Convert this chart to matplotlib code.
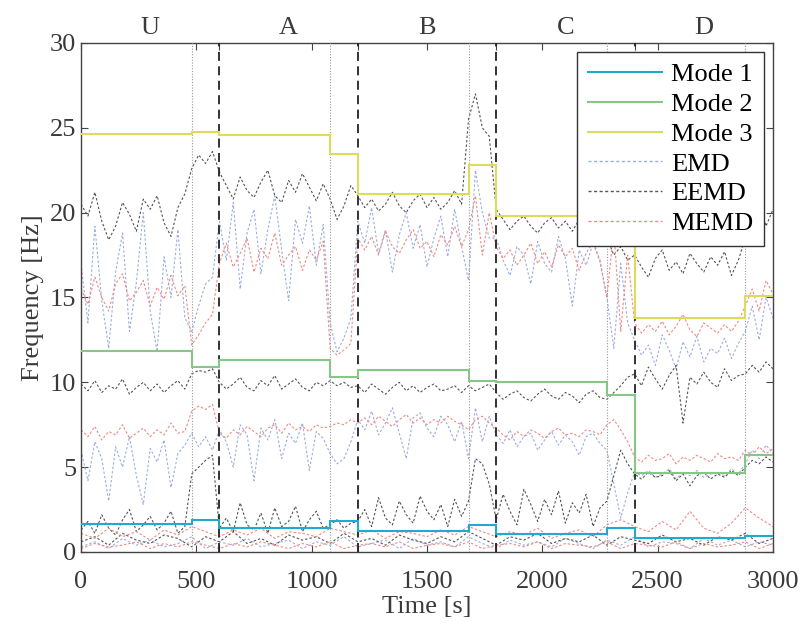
import numpy as np
import matplotlib
matplotlib.use("Agg")
import matplotlib.pyplot as plt
from matplotlib.lines import Line2D

plt.rcParams['font.family'] = ['Liberation Serif', 'DejaVu Serif']

# segment edges [s] and step values of the three modes [Hz]
edges = [0, 480, 600, 1080, 1200, 1680, 1800, 2280, 2400, 2880, 3000]
mode1 = [1.65, 1.9, 1.4, 1.8, 1.25, 1.6, 1.06, 1.4, 0.82, 0.94]
mode2 = [11.84, 10.9, 11.3, 10.3, 10.72, 10.1, 10.0, 9.25, 4.65, 5.7]
mode3 = [24.63, 24.75, 24.57, 23.45, 21.1, 22.8, 19.8, 19.75, 13.8, 15.1]

phase_lines = [600, 1200, 1800, 2400]
trans_lines = [480, 1080, 1680, 2280, 2880]
phase_names = ['U', 'A', 'B', 'C', 'D']
phase_centers = [300, 900, 1500, 2100, 2700]

# estimated frequency tracks, one value every 30 s (0..3000 s)
eemd_hi = [20.5, 19.8, 21.2, 19.5, 18.4, 19.2, 20.6, 19.9, 18.9, 20.8, 20.2, 21.0, 19.4, 18.6, 20.3, 21.1,
           22.6, 23.4, 22.9, 23.6,
           22.4, 21.6, 20.8, 22.1, 21.3, 20.9, 21.8, 22.5, 21.0, 20.6, 21.9, 21.2, 22.3, 21.5, 20.7, 21.7,
           20.8, 19.6, 20.4, 21.6,
           21.0, 20.3, 20.8, 20.1, 20.5, 21.2, 20.4, 20.0, 20.7, 21.1, 20.3, 20.9, 20.2, 20.6, 21.3, 20.5,
           25.5, 27.0, 25.0, 24.5,
           20.2, 19.6, 19.0, 19.5, 19.8, 19.2, 18.8, 19.4, 19.7, 19.1, 19.5, 18.9, 19.6, 19.3, 19.0, 19.8,
           18.5, 17.5, 18.0, 17.2,
           17.5, 16.8, 16.2, 17.3, 17.8, 16.6, 17.1, 16.4, 17.6, 17.0, 16.5, 17.4, 16.9, 17.7, 16.3, 17.2,
           18.5, 19.6, 20.8, 19.2, 20.2]
eemd_mid = [9.9, 9.5, 10.1, 9.4, 9.8, 9.6, 10.2, 9.3, 9.7, 10.0, 9.5, 9.9, 9.4, 9.8, 10.1, 9.6,
            10.5, 10.7, 10.6, 10.8,
            10.0, 9.6, 9.9, 10.3, 9.7, 9.5, 10.1, 9.8, 10.4, 9.6, 9.9, 10.2, 9.7, 9.5, 10.0, 9.8,
            10.1, 9.8, 10.0, 9.7,
            9.8, 9.4, 9.9, 9.6, 9.3, 9.7, 10.0, 9.5, 9.8, 9.4, 9.7, 9.9, 9.5, 9.6, 9.8, 9.4,
            9.8, 9.5, 9.7, 9.9,
            9.4, 9.0, 9.3, 9.5, 9.1, 8.9, 9.3, 9.6, 9.2, 9.0, 9.4, 9.2, 8.8, 9.3, 9.5, 9.1,
            9.0, 9.4, 9.8, 10.3,
            10.5, 9.8, 10.9, 10.2, 9.6, 10.4, 11.0, 7.6, 10.3, 9.9, 10.6, 10.0, 9.7, 10.8, 10.1, 10.4,
            10.5, 11.0, 10.6, 11.2, 10.8]
eemd_lo = [1.3, 1.8, 1.1, 2.2, 1.4, 1.0, 1.9, 2.5, 1.2, 1.6, 2.1, 1.3, 1.7, 2.4, 1.1, 1.5,
           4.6, 5.0, 5.4, 5.7,
           1.4, 2.0, 1.2, 2.9, 1.6, 1.3, 2.3, 1.1, 2.6, 1.5, 1.8, 2.7, 1.2, 1.9, 2.4, 1.4,
           1.6, 1.9, 1.4, 1.7,
           1.8, 2.5, 1.5, 3.2, 2.0, 1.6, 3.0, 2.2, 1.7, 3.3, 2.4, 1.9, 2.8, 1.5, 3.1, 2.1,
           3.0, 5.5, 5.2, 4.0,
           1.9, 3.4, 2.4, 1.6, 3.7, 2.8, 1.8, 3.1, 2.2, 3.6, 1.7, 2.9, 2.3, 3.4, 1.5, 2.6,
           3.0, 4.5, 6.0, 5.2,
           4.6, 4.3, 4.7, 4.4, 4.5, 4.8, 4.2, 4.6, 3.9, 4.5, 4.7, 4.3, 4.6, 4.4, 4.8, 4.5,
           5.0, 5.4, 5.2, 5.6, 5.3]

emd_hi = [17.0, 13.5, 19.2, 14.8, 12.0, 16.5, 18.8, 13.0, 15.9, 20.0, 14.2, 11.8, 17.4, 15.0, 19.0, 13.8,
          13.0, 14.5, 15.8, 16.2,
          19.5, 17.2, 20.6, 15.5, 18.8, 20.2, 16.4, 19.0, 21.0, 17.8, 14.8, 19.6, 18.2, 20.4, 16.9, 19.3,
          13.5, 11.8, 12.6, 13.8,
          19.5, 18.2, 20.3, 17.6, 19.0, 16.5, 18.7, 20.0, 17.9, 19.3, 16.8, 18.5, 19.8, 17.4, 20.2, 18.0,
          16.0, 22.5, 20.0, 18.5,
          18.5, 17.2, 16.3, 18.0, 17.5, 15.8, 18.3, 17.0, 16.5, 18.6, 17.3, 14.5, 17.8, 16.9, 18.2, 17.1,
          15.0, 12.0, 17.0, 13.5,
          12.5, 11.6, 12.2, 11.0, 12.8, 11.9, 10.8, 12.4, 11.5, 12.7, 11.2, 12.0, 11.7, 12.6, 11.4, 12.3,
          13.0, 14.5, 12.5, 15.0, 13.8]
emd_mid = [6.0, 4.2, 6.5, 5.5, 3.0, 6.2, 5.0, 6.8, 4.5, 2.8, 6.1, 5.3, 6.6, 3.8, 5.8, 6.3,
           7.0, 6.2, 6.8, 6.0,
           7.2, 6.5, 5.0, 7.5, 6.9, 4.2, 7.3, 6.6, 7.8, 5.5, 7.0, 6.4, 7.6, 4.8, 7.1, 6.7,
           5.8, 5.2, 5.5, 6.5,
           7.8, 7.2, 8.3, 6.9, 7.6, 8.5, 7.0, 5.5, 7.9, 8.2, 7.3, 6.8, 8.0, 7.5, 6.5, 7.7,
           5.5, 8.5, 6.5, 8.0,
           6.9, 6.4, 7.2, 6.2, 6.8, 7.0, 6.0, 6.6, 7.1, 6.3, 6.9, 6.5, 5.7, 6.8, 7.0, 6.4,
           6.0, 4.0, 2.0, 3.5,
           4.7, 4.5, 4.8, 4.4, 4.6, 4.9, 4.3, 4.7, 4.5, 4.8, 4.4, 4.6, 4.7, 4.5, 4.9, 4.6,
           5.2, 6.0, 5.5, 6.3, 5.8]

memd_hi = [15.5, 14.6, 16.2, 15.0, 14.2, 15.8, 16.4, 14.8, 15.3, 16.0, 14.5, 15.6, 14.9, 16.3, 15.1, 15.7,
           12.2, 12.8, 13.5, 14.0,
           17.0, 18.2, 16.8, 17.6, 18.5, 16.5, 17.9, 17.3, 18.8, 16.9, 17.5, 18.0, 16.6, 17.8, 17.2, 18.3,
           12.0, 11.6, 11.9, 12.3,
           18.5, 17.8, 18.6, 17.5, 18.9, 18.0, 17.6, 18.4, 19.0, 17.9, 18.3, 17.4, 18.7, 18.1, 19.2, 18.0,
           19.0, 21.0, 17.5, 20.0,
           18.0, 17.3, 17.8, 16.9, 17.5, 18.2, 17.0, 17.7, 16.8, 18.1, 17.4, 17.9, 16.6, 17.6, 18.3, 17.2,
           15.0, 19.0, 13.0, 17.5,
           13.5, 12.9, 13.4, 13.0, 13.6, 12.8, 13.3, 14.0, 13.1, 12.7, 13.5, 13.2, 12.9, 13.4, 13.0, 13.6,
           14.5, 15.5, 14.2, 16.0, 15.2]
memd_mid = [7.2, 6.8, 7.4, 6.6, 7.1, 6.9, 7.5, 6.7, 7.0, 7.3, 6.8, 7.2, 6.9, 7.6, 7.0, 7.1,
            8.3, 8.6, 8.4, 8.7,
            7.0, 6.7, 7.2, 6.9, 7.4, 7.1, 6.8, 7.3, 7.5, 7.0, 7.6, 7.2, 7.4, 7.1, 7.5, 7.3,
            7.4, 7.6, 7.5, 7.8,
            7.6, 7.9, 7.5, 8.0, 7.7, 7.4, 7.8, 8.1, 7.6, 7.9, 7.5, 7.8, 7.6, 8.0, 7.7, 7.5,
            7.2, 7.8, 8.0, 7.6,
            7.3, 6.9, 6.6, 7.1, 6.8, 7.2, 7.0, 6.7, 7.1, 7.3, 6.9, 7.0, 6.8, 7.2, 7.1, 6.9,
            7.5, 7.8, 7.2, 6.5,
            5.6, 5.3, 5.7, 5.4, 5.5, 5.8, 5.2, 5.6, 5.4, 5.7, 5.5, 5.3, 5.8, 5.5, 5.6, 5.4,
            6.0, 5.7, 6.2, 5.8, 6.1]

# low band, one value every 60 s
memd_lo = [1.1, 0.8, 1.4, 0.9, 1.2, 0.7, 1.3, 1.0, 1.5, 1.2, 0.9, 1.3, 1.0, 1.4, 0.8, 1.2, 1.1,
           0.9, 1.4, 1.2, 1.0, 1.3, 0.8, 1.2, 1.1, 0.9, 1.3, 1.0, 1.5, 1.2, 0.9, 1.2, 1.0, 1.4,
           0.8, 1.1, 1.3, 0.9, 1.6, 1.9, 1.5, 1.2, 1.8, 1.3, 2.4, 1.4, 1.1, 1.7, 2.6, 2.0, 1.5]
eemd_base = [0.6, 0.9, 0.4, 1.1, 0.7, 0.5, 1.0, 0.8, 0.3, 0.9, 0.6, 1.2, 0.5, 0.8, 0.4, 1.0, 0.7,
             0.9, 0.5, 1.1, 0.6, 0.8, 0.4, 1.0, 0.7, 0.5, 0.9, 0.6, 1.2, 0.8, 0.4, 0.9, 0.7, 1.1,
             0.5, 0.8, 0.6, 1.0, 0.4, 0.9, 0.7, 0.5, 1.0, 0.6, 0.8, 0.4, 0.9, 0.7, 1.1, 0.5, 0.8]
emd_base = [0.3, 0.6, 0.2, 0.8, 0.4, 0.7, 0.3, 0.5, 0.9, 0.2, 0.6, 0.4, 0.8, 0.3, 0.5, 0.7, 0.2,
            0.6, 0.4, 0.9, 0.3, 0.5, 0.7, 0.2, 0.8, 0.4, 0.6, 0.3, 0.9, 0.5, 0.2, 0.7, 0.4, 0.6,
            0.3, 0.8, 0.5, 0.2, 0.7, 0.4, 0.9, 0.3, 0.6, 0.5, 0.2, 0.8, 0.4, 0.7, 0.3, 0.6, 0.4]
memd_base = [0.2, 0.5, 0.3, 0.4, 0.6, 0.2, 0.5, 0.3, 0.6, 0.4, 0.2, 0.5, 0.3, 0.6, 0.4, 0.2, 0.5,
             0.3, 0.6, 0.2, 0.4, 0.5, 0.3, 0.6, 0.2, 0.4, 0.5, 0.3, 0.6, 0.2, 0.4, 0.5, 0.3, 0.6,
             0.2, 0.5, 0.4, 0.3, 0.6, 0.2, 0.5, 0.4, 0.3, 0.6, 0.2, 0.5, 0.3, 0.4, 0.6, 0.2, 0.5]

c_emd, c_eemd, c_memd = '#9caee0', '#555555', '#ef8a82'
c_m1, c_m2, c_m3 = '#22a9d2', '#86c686', '#dcdc5a'
txt = '#3a3a3a'
dash = (0, (2.2, 1.8))
fs = 19

fig = plt.figure(figsize=(8.03, 6.24), dpi=100)
ax = fig.add_axes([0.1009, 0.1154, 0.8617, 0.8157])


def track(vals, color):
    t = np.linspace(0, 3000, len(vals))
    ax.plot(t, vals, color=color, lw=0.8, linestyle=dash)


for v in [emd_base, emd_mid, emd_hi]:
    track(v, c_emd)
for v in [eemd_base, eemd_lo, eemd_mid, eemd_hi]:
    track(v, c_eemd)
for v in [memd_base, memd_lo, memd_mid, memd_hi]:
    track(v, c_memd)

for x in trans_lines:
    ax.axvline(x, color='#9a9a9a', lw=0.8, linestyle=(0, (1, 1.5)), zorder=3)
for x in phase_lines:
    ax.axvline(x, color='#222222', lw=1.3, linestyle=(0, (5, 3)), zorder=3)

ax.stairs(mode1, edges, baseline=None, color=c_m1, lw=1.5, zorder=4)
ax.stairs(mode2, edges, baseline=None, color=c_m2, lw=1.5, zorder=4)
ax.stairs(mode3, edges, baseline=None, color=c_m3, lw=1.5, zorder=4)

ax.set_xlim(0, 3000)
ax.set_ylim(0, 30)
ax.set_xticks([0, 500, 1000, 1500, 2000, 2500, 3000])
ax.set_xticks(phase_lines, minor=True)
ax.set_yticks([0, 5, 10, 15, 20, 25, 30])
ax.tick_params(which='both', direction='in', top=True, right=True, length=5,
               width=0.8, colors='#444444', labelsize=fs, labelcolor=txt)
ax.tick_params(axis='x', pad=14)
for s in ax.spines.values():
    s.set_color('#444444')
    s.set_linewidth(1.0)

for name, xc in zip(phase_names, phase_centers):
    ax.text(xc, 1.03, name, transform=ax.get_xaxis_transform(), ha='center',
            va='center', fontsize=fs, color=txt)

ax.set_xlabel('Time [s]', fontsize=fs, color=txt, labelpad=2)
ax.set_ylabel('Frequency [Hz]', fontsize=fs, color=txt, labelpad=4)

names = ['Mode 1', 'Mode 2', 'Mode 3', 'EMD', 'EEMD', 'MEMD']
leg_h = [Line2D([], [], color=c_m1, lw=1.5),
         Line2D([], [], color=c_m2, lw=1.5),
         Line2D([], [], color=c_m3, lw=1.5),
         Line2D([], [], color=c_emd, lw=1.0, linestyle=dash),
         Line2D([], [], color=c_eemd, lw=1.0, linestyle=dash),
         Line2D([], [], color=c_memd, lw=1.0, linestyle=dash)]
leg = ax.legend(leg_h, names, loc='upper right', fontsize=fs, frameon=True, fancybox=False,
                edgecolor='#333333', framealpha=1, handlelength=2.8, handletextpad=0.35,
                labelspacing=0.24, borderaxespad=0.35, borderpad=0.4)
leg.get_frame().set_linewidth(1.0)
leg.set_zorder(10)

fig.savefig('out.png', dpi=100)
